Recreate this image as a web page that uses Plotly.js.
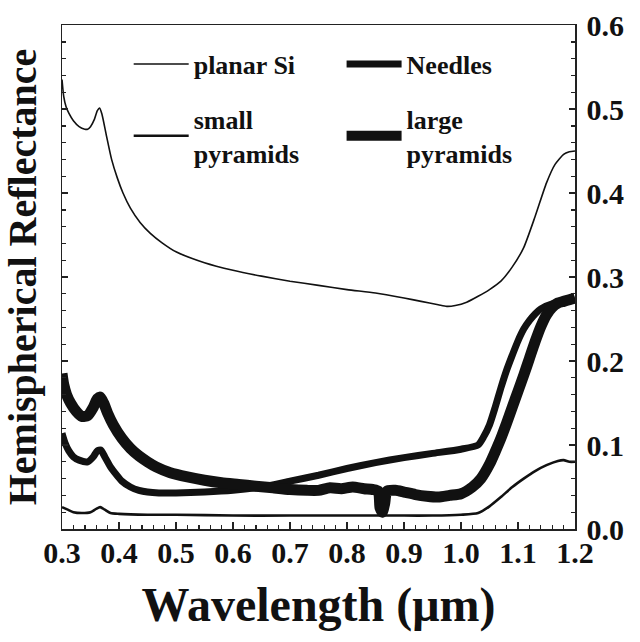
<!DOCTYPE html>
<html>
<head>
<meta charset="utf-8">
<script src="https://cdn.plot.ly/plotly-3.0.1.min.js"></script>
<style>
  html, body { margin: 0; padding: 0; background: #fff; }
  #chart { width: 640px; height: 642px; }
</style>
</head>
<body>
<div id="chart"></div>
<script>
// Hemispherical reflectance spectra of textured silicon surfaces
const planarWl = [0.300,0.303,0.307,0.312,0.320,0.330,0.340,0.345,0.350,0.357,0.362,0.366,0.370,0.378,0.387,0.397,0.407,0.420,0.437,0.455,0.475,0.50,0.55,0.60,0.65,0.70,0.75,0.80,0.85,0.90,0.93,0.96,0.975,0.99,1.01,1.03,1.05,1.07,1.09,1.11,1.13,1.15,1.165,1.18,1.19,1.20];
const planarR  = [0.535,0.515,0.503,0.495,0.486,0.479,0.476,0.476,0.479,0.488,0.498,0.501,0.494,0.468,0.440,0.418,0.400,0.382,0.365,0.352,0.341,0.330,0.317,0.308,0.301,0.295,0.290,0.285,0.281,0.275,0.271,0.267,0.265,0.266,0.270,0.277,0.285,0.295,0.312,0.335,0.372,0.412,0.434,0.446,0.449,0.450];

const needlesWl = [0.300,0.305,0.312,0.320,0.330,0.345,0.355,0.362,0.368,0.375,0.385,0.395,0.405,0.420,0.435,0.450,0.47,0.50,0.55,0.60,0.65,0.70,0.75,0.80,0.85,0.90,0.95,1.00,1.03,1.04,1.05,1.06,1.07,1.08,1.09,1.10,1.11,1.12,1.13,1.14,1.16,1.18,1.20];
const needlesR  = [0.114,0.103,0.093,0.086,0.082,0.080,0.086,0.093,0.094,0.086,0.074,0.065,0.057,0.050,0.046,0.044,0.043,0.043,0.044,0.046,0.050,0.057,0.064,0.072,0.079,0.085,0.090,0.095,0.100,0.110,0.124,0.145,0.168,0.189,0.207,0.224,0.238,0.248,0.256,0.262,0.268,0.270,0.273];

const smallWl = [0.30,0.31,0.32,0.335,0.35,0.36,0.367,0.375,0.385,0.40,0.45,0.50,0.60,0.70,0.80,0.90,0.95,1.00,1.03,1.05,1.07,1.09,1.11,1.13,1.15,1.17,1.18,1.19,1.20];
const smallR  = [0.026,0.023,0.020,0.019,0.020,0.024,0.026,0.023,0.019,0.018,0.017,0.017,0.016,0.016,0.016,0.016,0.016,0.017,0.019,0.027,0.038,0.050,0.060,0.069,0.076,0.081,0.082,0.080,0.080];

const largeWl = [0.300,0.303,0.308,0.315,0.325,0.335,0.345,0.355,0.362,0.367,0.373,0.380,0.390,0.405,0.42,0.435,0.45,0.465,0.49,0.52,0.55,0.58,0.61,0.64,0.67,0.70,0.73,0.75,0.77,0.79,0.81,0.83,0.845,0.855,0.858,0.862,0.866,0.87,0.885,0.90,0.92,0.94,0.96,0.98,1.00,1.02,1.035,1.05,1.06,1.07,1.08,1.09,1.10,1.11,1.12,1.13,1.14,1.15,1.16,1.17,1.18,1.19,1.20];
const largeR  = [0.185,0.172,0.160,0.150,0.140,0.134,0.135,0.145,0.155,0.157,0.150,0.138,0.124,0.108,0.096,0.087,0.080,0.074,0.067,0.062,0.058,0.055,0.053,0.051,0.049,0.047,0.046,0.046,0.049,0.048,0.050,0.048,0.047,0.045,0.025,0.020,0.030,0.045,0.046,0.044,0.041,0.039,0.038,0.040,0.042,0.050,0.060,0.077,0.092,0.108,0.126,0.145,0.164,0.183,0.203,0.223,0.241,0.255,0.264,0.269,0.271,0.273,0.275];

const seriesNames = ['planar Si', 'small<br>pyramids', 'Needles', 'large<br>pyramids'];
const xTickVals = [0.3,0.4,0.5,0.6,0.7,0.8,0.9,1.0,1.1,1.2];
const yTickVals = [0.0,0.1,0.2,0.3,0.4,0.5,0.6];

const SERIF = 'Liberation Serif';
const INK = '#111';
const FRAME = '#222';

// planar Si is drawn against the right-hand (labelled) axis; both share one scale
const traces = [
  { x: planarWl, y: planarR, name: seriesNames[0], yaxis: 'y2', legend: 'legend', legendgroup: 'a',
    mode: 'lines', line: { color: INK, width: 1.6, shape: 'spline', smoothing: 0.6 } },
  { x: smallWl, y: smallR, name: seriesNames[1], legend: 'legend', legendgroup: 'b',
    mode: 'lines', line: { color: INK, width: 2.6, shape: 'spline', smoothing: 0.6 } },
  { x: needlesWl, y: needlesR, name: seriesNames[2], legend: 'legend2', legendgroup: 'c',
    mode: 'lines', line: { color: INK, width: 7, shape: 'spline', smoothing: 0.6 } },
  { x: largeWl, y: largeR, name: seriesNames[3], legend: 'legend2', legendgroup: 'd',
    mode: 'lines', line: { color: INK, width: 11, shape: 'spline', smoothing: 0.6 } }
];

const tickFont = { family: SERIF, size: 30, color: INK, weight: 'bold' };
const legendFont = { family: SERIF, size: 26, color: INK, weight: 'bold' };
const legendBase = {
  xanchor: 'left', yanchor: 'top', y: 0.969,
  bgcolor: 'rgba(0,0,0,0)', borderwidth: 0,
  itemwidth: 55, tracegroupgap: 18, traceorder: 'grouped', orientation: 'v'
};
const minorTicks = { dtick: 0.02, ticks: 'inside', ticklen: 4, tickwidth: 1.4, tickcolor: FRAME };

const layout = {
  width: 640, height: 642,
  margin: { l: 62, r: 65, t: 25, b: 113 },
  paper_bgcolor: '#fff', plot_bgcolor: '#fff',
  font: { family: SERIF, color: INK },
  showlegend: true,
  legend: Object.assign({}, legendBase, { x: 0.13, font: legendFont }),
  legend2: Object.assign({}, legendBase, { x: 0.545, font: legendFont }),
  xaxis: {
    range: [0.3, 1.2], tickvals: xTickVals, tickformat: '.1f',
    ticks: 'inside', ticklen: 7, tickwidth: 1.6, tickcolor: FRAME,
    minor: Object.assign({ tick0: 0.3 }, minorTicks),
    showline: true, linecolor: FRAME, linewidth: 1.5, mirror: true,
    showgrid: false, zeroline: false,
    tickfont: tickFont, ticklabelstandoff: -4,
    title: { text: 'Wavelength (μm)', font: { family: SERIF, size: 48, color: INK, weight: 'bold' }, standoff: 20 }
  },
  yaxis: {
    range: [0, 0.6], tickvals: yTickVals, side: 'left',
    ticks: 'inside', ticklen: 6, tickwidth: 1.6, tickcolor: FRAME,
    minor: Object.assign({ tick0: 0 }, minorTicks),
    showline: true, linecolor: FRAME, linewidth: 1.5,
    showgrid: false, zeroline: false, showticklabels: false,
    title: { text: 'Hemispherical Reflectance', font: { family: SERIF, size: 40, color: INK, weight: 'bold' }, standoff: 16 }
  },
  yaxis2: {
    overlaying: 'y', matches: 'y', side: 'right', range: [0, 0.6],
    tickvals: yTickVals, tickformat: '.1f',
    ticks: 'inside', ticklen: 6, tickwidth: 1.6, tickcolor: FRAME,
    minor: Object.assign({ tick0: 0 }, minorTicks),
    showline: true, linecolor: FRAME, linewidth: 1.5,
    showgrid: false, zeroline: false,
    tickfont: tickFont, ticklabelstandoff: 4
  }
};

Plotly.newPlot('chart', traces, layout, { staticPlot: true, displayModeBar: false });
</script>
</body>
</html>
